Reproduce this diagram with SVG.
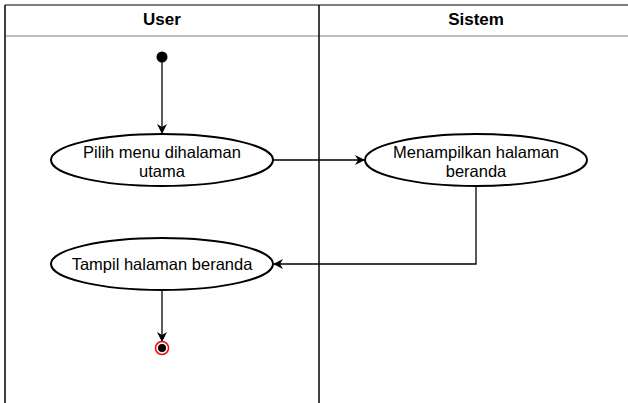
<svg xmlns="http://www.w3.org/2000/svg" width="628" height="403" viewBox="0 0 628 403">
<defs>
<style>
.lane{fill:none;stroke:#000;stroke-width:1.5}
.hdr{font-family:"Liberation Sans",Arial,sans-serif;font-size:17px;font-weight:bold;fill:#000;text-anchor:middle}
.act{fill:#fff;stroke:#000;stroke-width:2}
.lbl{font-family:"Liberation Sans",Arial,sans-serif;font-size:16.5px;fill:#000;text-anchor:middle}
.edge{fill:none;stroke:#000;stroke-width:1.3}
</style>
<marker id="arr" viewBox="0 0 10 10" refX="9" refY="5" markerWidth="10" markerHeight="10" markerUnits="userSpaceOnUse" orient="auto">
<path d="M0,0 L10,5 L0,10 L3,5 Z" fill="#000"/>
</marker>
</defs>
<rect width="628" height="403" fill="#fff"/>
<g id="pool">
<line x1="5" y1="5" x2="628" y2="5" stroke="#555" stroke-width="1.5"/>
<line x1="5" y1="36" x2="628" y2="36" stroke="#aaa" stroke-width="1.5"/>
<line x1="5" y1="5" x2="5" y2="403" class="lane"/>
<line x1="319" y1="5" x2="319" y2="403" class="lane"/>
<text class="hdr" x="162" y="25">User</text>
<text class="hdr" x="476" y="25">Sistem</text>
</g>
<g id="connectors">
<line class="edge" x1="162" y1="62" x2="162" y2="133" marker-end="url(#arr)"/>
<line class="edge" x1="273" y1="160" x2="364" y2="160" marker-end="url(#arr)"/>
<polyline class="edge" points="476,186 476,264 274,264" marker-end="url(#arr)"/>
<line class="edge" x1="162" y1="290" x2="162" y2="341" marker-end="url(#arr)"/>
</g>
<g id="start">
<circle cx="162" cy="57" r="5.5" fill="#000"/>
</g>
<g id="a1">
<ellipse class="act" cx="162" cy="160" rx="111" ry="26"/>
<text class="lbl" x="162" y="158">Pilih menu dihalaman</text>
<text class="lbl" x="162" y="177">utama</text>
</g>
<g id="a2">
<ellipse class="act" cx="476" cy="160" rx="111" ry="26"/>
<text class="lbl" x="476" y="158">Menampilkan halaman</text>
<text class="lbl" x="476" y="177">beranda</text>
</g>
<g id="a3">
<ellipse class="act" cx="162" cy="264" rx="111" ry="26"/>
<text class="lbl" x="162" y="270">Tampil halaman beranda</text>
</g>
<g id="end">
<circle cx="162" cy="348" r="6.5" fill="#fff" stroke="#f00" stroke-width="1.5"/>
<circle cx="162" cy="348" r="4" fill="#000"/>
</g>
</svg>
